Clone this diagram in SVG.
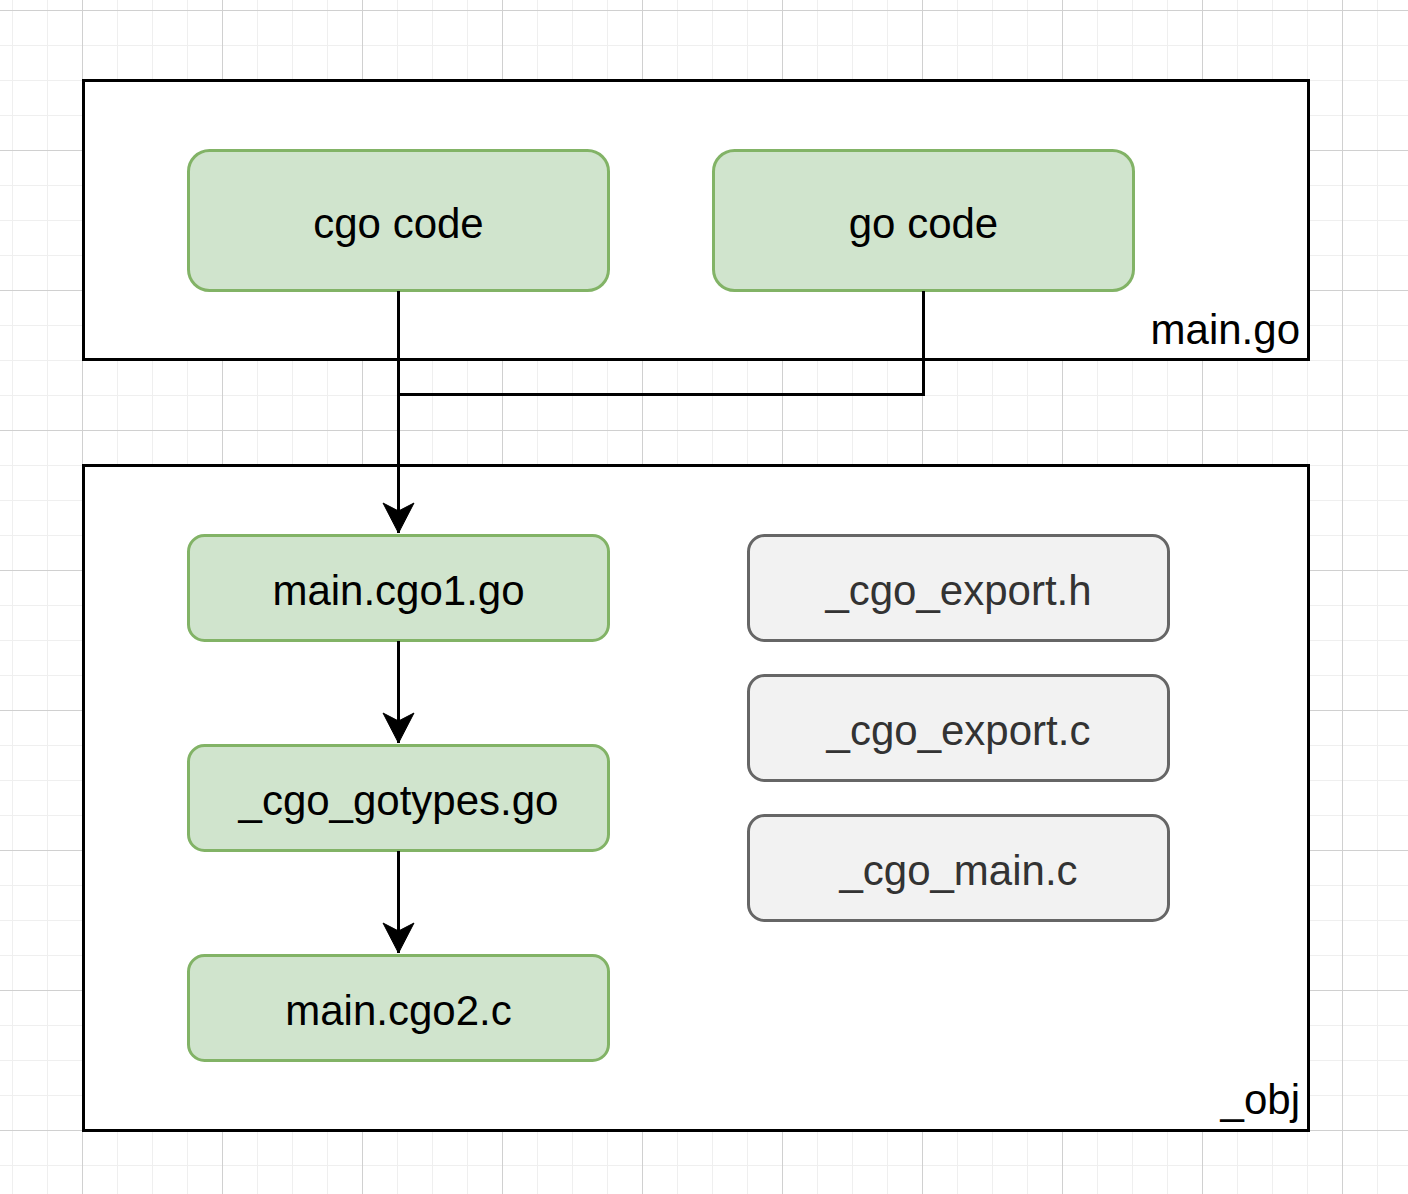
<svg xmlns="http://www.w3.org/2000/svg" width="1408" height="1194" viewBox="0 0 1408 1194">
<defs>
<pattern id="minor" x="12" y="10" width="35" height="35" patternUnits="userSpaceOnUse">
<path d="M0 0.5H35M0.5 0V35" fill="none" stroke="#efefef" stroke-width="1"/>
</pattern>
<pattern id="major" x="82" y="10" width="140" height="140" patternUnits="userSpaceOnUse">
<path d="M0 0.5H140M0.5 0V140" fill="none" stroke="#d0d0d0" stroke-width="1"/>
</pattern>
<marker id="arr" markerUnits="userSpaceOnUse" markerWidth="34" markerHeight="34" viewBox="0 0 34 34" refX="31" refY="17" orient="auto">
<path d="M1 1.5L31 17L1 32.5L9 17Z" fill="#000" stroke="#000" stroke-width="1"/>
</marker>
<style>
.box{fill:#fff;stroke:#000;stroke-width:3}
.g{fill:#d0e4cd;stroke:#82b366;stroke-width:3}
.s{fill:#f2f2f2;stroke:#666;stroke-width:3}
.t{font-family:"Liberation Sans",Arial,sans-serif;font-size:42px;text-anchor:middle;fill:#000}
.ts{font-family:"Liberation Sans",Arial,sans-serif;font-size:42px;text-anchor:middle;fill:#333}
.lbl{font-family:"Liberation Sans",Arial,sans-serif;font-size:42px;text-anchor:end;fill:#000}
.c{fill:none;stroke:#000;stroke-width:3}
</style>
</defs>
<rect width="1408" height="1194" fill="#fff"/>
<rect width="1408" height="1194" fill="url(#minor)"/>
<rect width="1408" height="1194" fill="url(#major)"/>
<g id="container-main-go">
<rect class="box" x="83.5" y="80.5" width="1225" height="279"/>
<text class="lbl" x="1300" y="344">main.go</text>
</g>
<g id="container-obj">
<rect class="box" x="83.5" y="465.5" width="1225" height="665"/>
<text class="lbl" x="1300" y="1114">_obj</text>
</g>
<g id="node-cgo-code">
<rect class="g" x="188.5" y="150.5" width="420" height="140" rx="21"/>
<text class="t" x="398.5" y="238">cgo code</text>
</g>
<g id="node-go-code">
<rect class="g" x="713.5" y="150.5" width="420" height="140" rx="21"/>
<text class="t" x="923.5" y="238">go code</text>
</g>
<g id="node-main-cgo1-go">
<rect class="g" x="188.5" y="535.5" width="420" height="105" rx="16"/>
<text class="t" x="398.5" y="605">main.cgo1.go</text>
</g>
<g id="node-cgo-gotypes-go">
<rect class="g" x="188.5" y="745.5" width="420" height="105" rx="16"/>
<text class="t" x="398.5" y="815">_cgo_gotypes.go</text>
</g>
<g id="node-main-cgo2-c">
<rect class="g" x="188.5" y="955.5" width="420" height="105" rx="16"/>
<text class="t" x="398.5" y="1025">main.cgo2.c</text>
</g>
<g id="node-cgo-export-h">
<rect class="s" x="748.5" y="535.5" width="420" height="105" rx="16"/>
<text class="ts" x="958.5" y="605">_cgo_export.h</text>
</g>
<g id="node-cgo-export-c">
<rect class="s" x="748.5" y="675.5" width="420" height="105" rx="16"/>
<text class="ts" x="958.5" y="745">_cgo_export.c</text>
</g>
<g id="node-cgo-main-c">
<rect class="s" x="748.5" y="815.5" width="420" height="105" rx="16"/>
<text class="ts" x="958.5" y="885">_cgo_main.c</text>
</g>
<g id="connectors">
<path class="c" d="M398.5 291V533" marker-end="url(#arr)"/>
<path class="c" d="M923.5 291V394.5H398.5"/>
<path class="c" d="M398.5 641V743" marker-end="url(#arr)"/>
<path class="c" d="M398.5 851V953" marker-end="url(#arr)"/>
</g>
</svg>
